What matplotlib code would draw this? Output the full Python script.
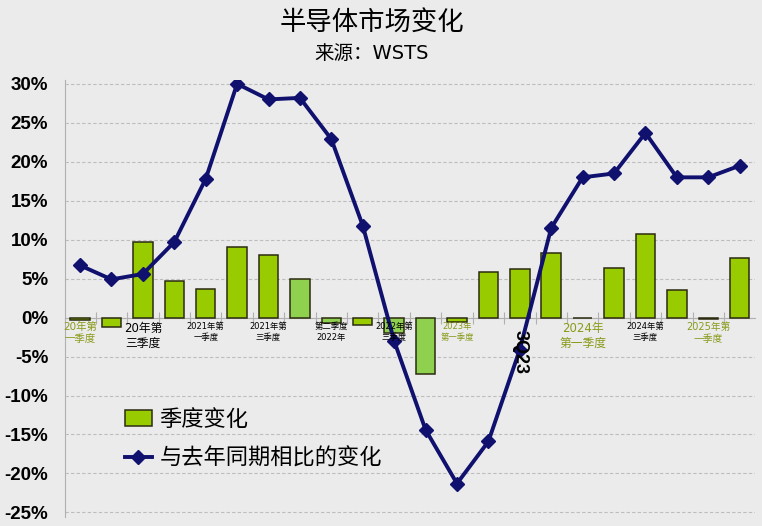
import matplotlib
matplotlib.use('Agg')
import matplotlib.pyplot as plt
from matplotlib.ticker import FixedLocator, FuncFormatter

plt.rcParams['font.family'] = ['DejaVu Sans', 'Noto Sans CJK SC']

# quarterly data, 1Q20 .. 2Q25
quarters = ['1Q20', '2Q20', '3Q20', '4Q20', '1Q21', '2Q21', '3Q21', '4Q21',
            '1Q22', '2Q22', '3Q22', '4Q22', '1Q23', '2Q23', '3Q23', '4Q23',
            '1Q24', '2Q24', '3Q24', '4Q24', '1Q25', '2Q25']
qoq_change = [-0.3, -1.2, 9.7, 4.7, 3.7, 9.0, 8.0, 4.9,
              -0.7, -1.0, -2.0, -7.3, -0.6, 5.9, 6.2, 8.3,
              0.0, 6.4, 10.7, 3.5, -0.2, 7.7]
yoy_change = [6.7, 4.9, 5.6, 9.7, 17.8, 30.0, 28.0, 28.2,
              22.9, 11.8, -3.0, -14.4, -21.3, -15.9, -4.1, 11.5,
              18.0, 18.5, 23.7, 18.0, 18.0, 19.5]
light_bars = ['4Q21', '1Q22', '3Q22', '4Q22']

# labels written under the zero line
quarter_labels = {
    '1Q20': ('20年第\n一季度', '#8a9a1a', 7.5),
    '3Q20': ('20年第\n三季度', 'black', 8.5),
    '1Q21': ('2021年第\n一季度', 'black', 6),
    '3Q21': ('2021年第\n三季度', 'black', 6),
    '1Q22': ('第二季度\n2022年', 'black', 6),
    '3Q22': ('2022年第\n三季度', 'black', 6),
    '1Q23': ('2023年\n第一季度', '#8a9a1a', 6),
    '1Q24': ('2024年\n第一季度', '#8a9a1a', 8.5),
    '3Q24': ('2024年第\n三季度', 'black', 6),
    '1Q25': ('2025年第\n一季度', '#8a9a1a', 7),
}

bg = '#ebebeb'
fig = plt.figure(figsize=(7.62, 5.26), dpi=100, facecolor=bg)
ax = fig.add_axes([0.0853, 0.017, 0.906, 0.831])
ax.set_facecolor(bg)

x = list(range(len(quarters)))
colors = ['#8fd14f' if q in light_bars else '#99cc00' for q in quarters]
bars = ax.bar(x, qoq_change, width=0.62, color=colors, edgecolor='#2b2b10',
              linewidth=1.1, label='季度变化', zorder=3)
line, = ax.plot(x, yoy_change, color='#10106e', linewidth=2.8, marker='D',
                markersize=7, label='与去年同期相比的变化', zorder=4)

for q, (txt, col, fs) in quarter_labels.items():
    i = quarters.index(q)
    ax.text(i, -0.6, txt, ha='center', va='top', fontsize=fs, color=col,
            linespacing=1.2, zorder=5)
ax.text(quarters.index('3Q23'), -1.6, '3Q23', rotation=270, ha='center',
        va='top', fontsize=13, fontweight='bold', color='black', zorder=6,
        family=['Liberation Sans', 'DejaVu Sans'])

ax.set_xlim(-0.48, 21.5)
ax.set_ylim(-25.6, 30.5)
ax.yaxis.set_major_locator(FixedLocator(range(-25, 31, 5)))
ax.yaxis.set_major_formatter(FuncFormatter(lambda v, p: f'{v:.0f}%'))
ax.tick_params(axis='y', length=0, labelsize=13.5, pad=12)
for lab in ax.get_yticklabels():
    lab.set_family(['Liberation Sans', 'DejaVu Sans'])
    lab.set_fontweight('bold')
ax.grid(axis='y', color='#bdbdbd', linestyle=(0, (3, 2)), linewidth=0.8, zorder=0)

ax.spines['bottom'].set_position(('data', 0))
ax.spines['bottom'].set_color('#b0b0b0')
ax.spines['left'].set_color('#b0b0b0')
ax.spines['top'].set_visible(False)
ax.spines['right'].set_visible(False)
ax.set_xticks([i + 0.5 for i in x[:-1]])
ax.set_xticklabels([])
ax.tick_params(axis='x', direction='inout', length=8, color='#b0b0b0')

fig.text(0.488, 0.957, '半导体市场变化', ha='center', va='center', fontsize=19)
fig.text(0.488, 0.898, '来源：WSTS', ha='center', va='center', fontsize=14)

leg = ax.legend(handles=[bars, line], loc='lower left',
                bbox_to_anchor=(0.058, 0.065), frameon=False,
                fontsize=16, handlelength=1.2, handletextpad=0.35,
                labelspacing=0.8)

fig.savefig('out.png', dpi=100, facecolor=bg)
